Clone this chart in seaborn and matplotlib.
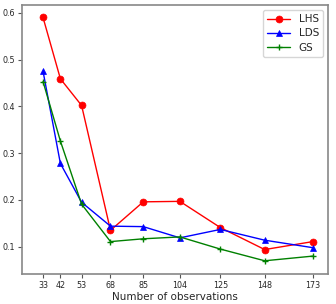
import matplotlib
matplotlib.use("Agg")
import pandas as pd
import matplotlib.pyplot as plt
import seaborn as sns

# Data
n_obs = [33, 42, 53, 68, 85, 104, 125, 148, 173]
lhs = [0.590, 0.459, 0.402, 0.135, 0.196, 0.197, 0.141, 0.094, 0.111]
lds = [0.475, 0.278, 0.195, 0.144, 0.143, 0.119, 0.137, 0.114, 0.098]
gs = [0.453, 0.326, 0.191, 0.111, 0.117, 0.121, 0.095, 0.070, 0.080]

df = pd.DataFrame({'n': n_obs, 'LHS': lhs, 'LDS': lds, 'GS': gs})

sns.set_style('white')
plt.rcParams['font.family'] = ['DejaVu Sans']

fig, ax = plt.subplots(figsize=(3.36, 3.04), dpi=100)

# seaborn draws marker edges white by default, so set them to the line colour
sns.lineplot(data=df, x='n', y='LHS', ax=ax, color='red', marker='o',
             markersize=5, markeredgecolor='red', markeredgewidth=0.5,
             linewidth=1, label='LHS')
sns.lineplot(data=df, x='n', y='LDS', ax=ax, color='blue', marker='^',
             markersize=5, markeredgecolor='blue', markeredgewidth=0.5,
             linewidth=1, label='LDS')
sns.lineplot(data=df, x='n', y='GS', ax=ax, color='green', marker='+',
             markersize=5, markeredgecolor='green', markeredgewidth=1,
             linewidth=1, label='GS')

ax.set_xlim(22, 181)
ax.set_ylim(0.0426, 0.617)
ax.set_xticks(n_obs)
ax.set_xticklabels([str(v) for v in n_obs])
ax.set_yticks([0.1, 0.2, 0.3, 0.4, 0.5, 0.6])
ax.tick_params(axis='both', labelsize=5.8, length=3, width=0.8,
               bottom=True, left=True, color='#555555', pad=2)
ax.set_xlabel('Number of observations', fontsize=7.5, labelpad=2)
ax.set_ylabel('')

for sp in ax.spines.values():
    sp.set_color('#888888')
    sp.set_linewidth(1.2)

ax.legend(loc='upper right', fontsize=7.5, frameon=True, handlelength=2.2,
          borderpad=0.4, labelspacing=0.4)

fig.subplots_adjust(left=0.065, right=0.977, top=0.984, bottom=0.10)
fig.savefig('out.png', dpi=100)
